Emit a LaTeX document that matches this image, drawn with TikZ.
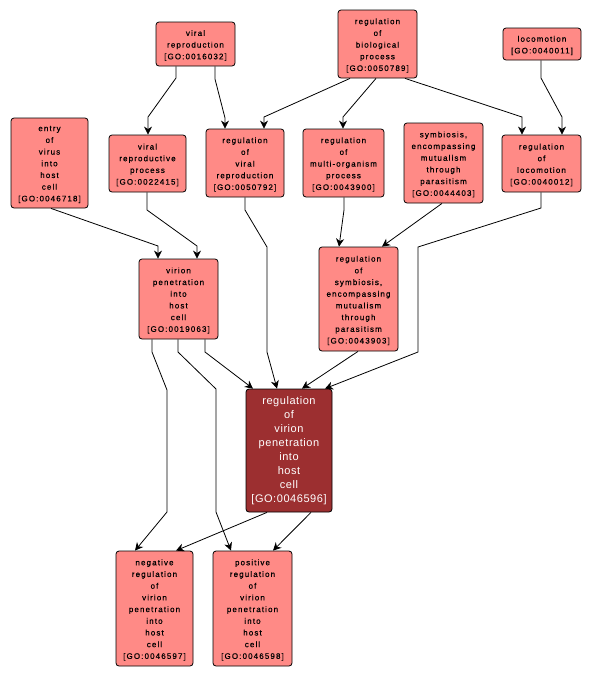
\documentclass[tikz,border=0pt]{standalone}
\usepackage{fontspec}
\usetikzlibrary{arrows.meta}
\newfontfamily\lblfont[LetterSpace=14,FakeBold=0.5]{Liberation Sans}
\newfontfamily\lbldark[LetterSpace=5]{Liberation Sans}
\definecolor{goLight}{HTML}{FF8A86}
\definecolor{goDark}{HTML}{9C2F30}
\tikzset{
  gobox/.style={draw=black, line width=0.8pt, rounded corners=3pt, fill=goLight, inner sep=0pt},
  golbl/.style={align=center, inner sep=0pt, yshift=-1.5pt, font=\lblfont\fontsize{8}{11.7}\selectfont},
  godark/.style={gobox, fill=goDark},
  godarklbl/.style={align=center, inner sep=0pt, text=white, font=\lbldark\fontsize{11}{14}\selectfont},
  link/.style={draw=black, line width=0.8pt, -{Stealth[length=8pt,width=8pt,inset=2.5pt]}}
}
\begin{document}
\begin{tikzpicture}[x=1pt,y=-1pt]
\useasboundingbox[fill=white] (0,0) rectangle (591,678);
% nodes
\node[gobox, minimum width=79, minimum height=44, label={[golbl]center:{viral\\reproduction\\{[GO:0016032]}}}] (vr) at (195.5,44) {};
\node[gobox, minimum width=79, minimum height=68, label={[golbl]center:{regulation\\of\\biological\\process\\{[GO:0050789]}}}] (rbp) at (377.5,44) {};
\node[gobox, minimum width=78, minimum height=32, label={[golbl]center:{locomotion\\{[GO:0040011]}}}] (loc) at (542,44) {};
\node[gobox, minimum width=77, minimum height=90, label={[golbl]center:{entry\\of\\virus\\into\\host\\cell\\{[GO:0046718]}}}] (entry) at (49.5,163) {};
\node[gobox, minimum width=77, minimum height=57, label={[golbl]center:{viral\\reproductive\\process\\{[GO:0022415]}}}] (vrp) at (147.5,163.5) {};
\node[gobox, minimum width=78, minimum height=68, label={[golbl]center:{regulation\\of\\viral\\reproduction\\{[GO:0050792]}}}] (rvr) at (245,163) {};
\node[gobox, minimum width=81, minimum height=68, label={[golbl]center:{regulation\\of\\multi-organism\\process\\{[GO:0043900]}}}] (rmo) at (343.5,163) {};
\node[gobox, minimum width=79, minimum height=80, label={[golbl]center:{symbiosis,\\encompassing\\mutualism\\through\\parasitism\\{[GO:0044403]}}}] (sym) at (443.5,163) {};
\node[gobox, minimum width=79, minimum height=57, label={[golbl]center:{regulation\\of\\locomotion\\{[GO:0040012]}}}] (rloc) at (541.5,163.5) {};
\node[gobox, minimum width=79, minimum height=80, label={[golbl]center:{virion\\penetration\\into\\host\\cell\\{[GO:0019063]}}}] (vp) at (178.5,299) {};
\node[gobox, minimum width=79, minimum height=104, label={[golbl]center:{regulation\\of\\symbiosis,\\encompassing\\mutualism\\through\\parasitism\\{[GO:0043903]}}}] (rsym) at (358.5,299) {};
\node[godark, minimum width=86, minimum height=123, label={[godarklbl]center:{regulation\\of\\virion\\penetration\\into\\host\\cell\\{[GO:0046596]}}}] (rvp) at (289,450.5) {};
\node[gobox, minimum width=77, minimum height=115, label={[golbl]center:{negative\\regulation\\of\\virion\\penetration\\into\\host\\cell\\{[GO:0046597]}}}] (neg) at (154.5,608.5) {};
\node[gobox, minimum width=79, minimum height=115, label={[golbl]center:{positive\\regulation\\of\\virion\\penetration\\into\\host\\cell\\{[GO:0046598]}}}] (pos) at (252.5,608.5) {};
% edges
\draw[link] (vr.south -| 176,0) -- (176,78) -- (148,117) -- (vrp.north -| 148,0);
\draw[link] (vr.south -| 215,0) -- (215,79) -- (225,118) -- (rvr.north -| 225,0);
\draw[link] (rbp.south -| 350,0) -- (264,117) -- (rvr.north -| 264,0);
\draw[link] (rbp.south -| 376,0) -- (343,117) -- (rmo.north -| 343,0);
\draw[link] (rbp.south -| 405,0) -- (522,117) -- (rloc.north -| 522,0);
\draw[link] (loc.south -| 541,0) -- (541,78) -- (562,117) -- (rloc.north -| 562,0);
\draw[link] (entry.south -| 51,0) -- (158,246) -- (vp.north -| 158,0);
\draw[link] (vrp.south -| 147,0) -- (147,210) -- (197,246) -- (vp.north -| 197,0);
\draw[link] (rvr.south -| 245,0) -- (245,210) -- (267,247) -- (267,352) -- (rvp.north -| 277,0);
\draw[link] (rmo.south -| 344,0) -- (344,210) -- (rsym.north -| 339,0);
\draw[link] (sym.south -| 442,0) -- (rsym.north -| 382,0);
\draw[link] (rloc.south -| 541,0) -- (541,208) -- (418,247) -- (418,352) -- (rvp.north -| 325,0);
\draw[link] (rsym.south -| 358,0) -- (rvp.north -| 302,0);
\draw[link] (vp.south -| 205,0) -- (205,352) -- (rvp.north -| 253,0);
\draw[link] (vp.south -| 152,0) -- (152,352) -- (167,390) -- (167,512) -- (neg.north -| 135,0);
\draw[link] (vp.south -| 178,0) -- (178,352) -- (216,389) -- (216,512) -- (pos.north -| 231,0);
\draw[link] (rvp.south -| 267,0) -- (neg.north -| 176,0);
\draw[link] (rvp.south -| 311,0) -- (pos.north -| 273,0);
\end{tikzpicture}
\end{document}
